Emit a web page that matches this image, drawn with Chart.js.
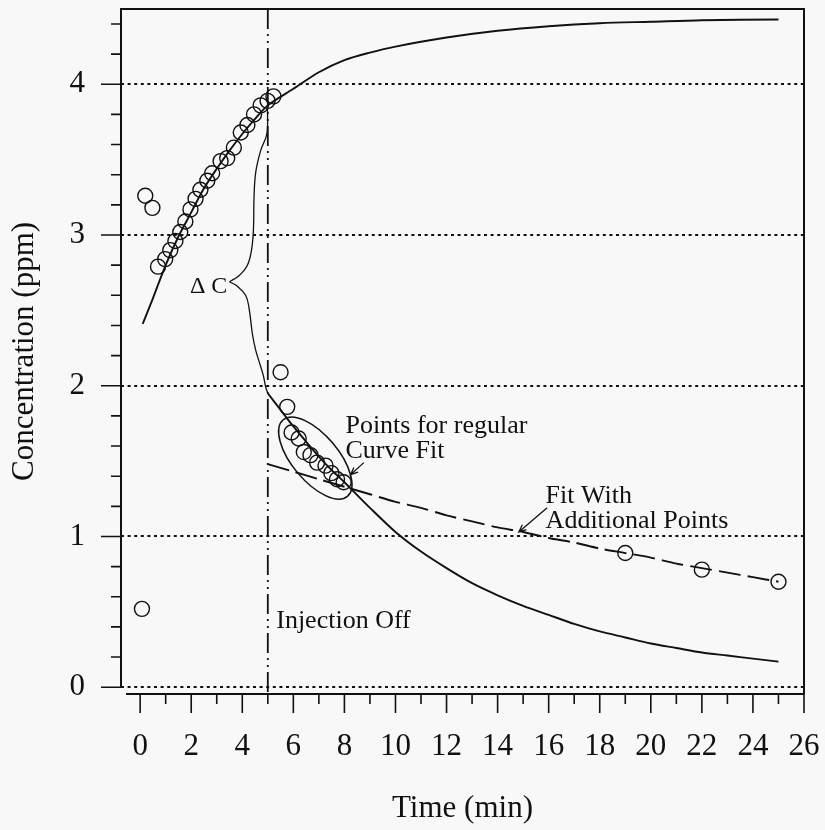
<!DOCTYPE html>
<html>
<head>
<meta charset="utf-8">
<script src="https://cdn.jsdelivr.net/npm/chart.js@4.4.0/dist/chart.umd.min.js"></script>
<style>
  html, body { margin: 0; padding: 0; background: #f8f8f8; }
  #wrap { width: 825px; height: 830px; }
</style>
</head>
<body>
<div id="wrap"><canvas id="chart" width="825" height="830"></canvas></div>
<script>
// axis ranges and tick labels
const xMin = -0.75, xMax = 26;
const yMin = -0.045, yMax = 4.5;
const xTickLabels = [0, 2, 4, 6, 8, 10, 12, 14, 16, 18, 20, 22, 24, 26];
const yTickLabels = [0, 1, 2, 3, 4];
const injectionTime = 5;

// measured concentrations (open circles)
const risingT = [0.70, 0.98, 1.18, 1.38, 1.57, 1.77, 1.97, 2.17, 2.36, 2.63, 2.82, 3.15, 3.41, 3.67, 3.94, 4.20, 4.46, 4.72, 4.99, 5.22];
const risingC = [2.79, 2.84, 2.90, 2.96, 3.02, 3.09, 3.17, 3.24, 3.30, 3.36, 3.41, 3.49, 3.51, 3.58, 3.68, 3.73, 3.80, 3.86, 3.89, 3.92];
const outlierT = [0.20, 0.48, 0.07];
const outlierC = [3.26, 3.18, 0.52];
const decayT = [5.50, 5.76, 5.93, 6.21, 6.41, 6.67, 6.93, 7.26, 7.49, 7.71, 7.97];
const decayC = [2.09, 1.86, 1.69, 1.65, 1.56, 1.54, 1.49, 1.47, 1.42, 1.38, 1.36];
const lateT = [19, 22, 25];
const lateC = [0.89, 0.78, 0.70];

// fitted curves
const buildupT = [0.1, 0.5, 1, 1.5, 2, 2.5, 3, 3.5, 4, 4.5, 5, 6, 7, 8, 9, 10, 12, 14, 16, 18, 20, 22, 25];
const buildupC = [2.41, 2.58, 2.80, 2.99, 3.15, 3.31, 3.44, 3.56, 3.67, 3.77, 3.86, 3.97, 4.08, 4.16, 4.21, 4.25, 4.31, 4.355, 4.385, 4.405, 4.415, 4.425, 4.43];
const fallT = [5, 5.5, 6, 6.5, 7, 7.5, 8, 9, 10, 11, 12, 13, 14, 15, 16, 17, 18, 19, 20, 21, 22, 23, 24, 25];
const fallC = [1.95, 1.84, 1.73, 1.63, 1.53, 1.44, 1.36, 1.19, 1.03, 0.90, 0.79, 0.69, 0.61, 0.54, 0.48, 0.42, 0.37, 0.33, 0.29, 0.26, 0.23, 0.21, 0.19, 0.17];
const extT = [5, 6, 7, 8, 9, 10, 11, 12, 13, 14, 15, 16, 17, 18, 19, 20, 21, 22, 23, 24, 25];
const extC = [1.48, 1.43, 1.38, 1.33, 1.28, 1.23, 1.19, 1.14, 1.10, 1.06, 1.03, 0.99, 0.96, 0.92, 0.89, 0.86, 0.82, 0.79, 0.76, 0.73, 0.70];

// delta C brace, upper and lower arm
const braceUpT = [4.99, 4.96, 4.72, 4.53, 4.46, 4.44, 4.37, 4.20, 3.87, 3.50];
const braceUpC = [3.84, 3.67, 3.56, 3.42, 3.25, 3.05, 2.91, 2.80, 2.73, 2.69];
const braceLoT = [3.50, 3.81, 4.13, 4.26, 4.40, 4.52, 4.66, 4.82, 4.92, 5.00];
const braceLoC = [2.69, 2.66, 2.60, 2.52, 2.34, 2.24, 2.16, 2.07, 1.99, 1.95];

const pts = (xs, ys) => xs.map((x, i) => ({ x: x, y: ys[i] }));
const ink = '#111';
const serif = "'Liberation Serif', 'Times New Roman', serif";
Chart.defaults.font.family = serif;
Chart.defaults.color = ink;

const lineSet = (data, extra) => Object.assign({
  data: data, showLine: true, borderColor: ink, borderWidth: 1.9,
  pointRadius: 0, fill: false, tension: 0.3
}, extra);
const dotSet = (data) => ({
  data: data, showLine: false, pointRadius: 7.5, pointBorderWidth: 1.4,
  pointBorderColor: ink, pointBackgroundColor: 'rgba(0,0,0,0)'
});

// frame, tick marks and annotations
const decor = {
  id: 'decor',
  afterDraw(chart) {
    const { ctx, chartArea: a, scales: { x, y } } = chart;
    const X = v => x.getPixelForValue(v), Y = v => y.getPixelForValue(v);
    ctx.save();
    ctx.strokeStyle = ink;
    ctx.fillStyle = ink;
    ctx.lineWidth = 2;
    ctx.beginPath();
    ctx.moveTo(a.left, Y(0));
    ctx.lineTo(a.left, a.top);
    ctx.lineTo(a.right, a.top);
    ctx.lineTo(a.right, a.bottom);
    ctx.moveTo(a.left + 5, a.bottom);
    ctx.lineTo(a.right, a.bottom);
    ctx.stroke();

    ctx.lineWidth = 1.6;
    ctx.beginPath();
    for (let i = 0; i <= 22; i++) {
      const py = Y(i * 0.2);
      ctx.moveTo(a.left, py);
      ctx.lineTo(a.left - (i % 5 === 0 ? 20 : 10), py);
    }
    for (let v = 0; v <= 26; v++) {
      const px = X(v);
      ctx.moveTo(px, a.bottom);
      ctx.lineTo(px, a.bottom + (v % 2 === 0 ? 19 : 10));
    }
    ctx.stroke();

    // ellipse round the points used for the regular fit
    ctx.lineWidth = 1.5;
    ctx.beginPath();
    ctx.ellipse(X(6.86), Y(1.52), 50, 23, 50 * Math.PI / 180, 0, Math.PI * 2);
    ctx.stroke();

    const arrow = (x0, y0, x1, y1) => {
      const p0 = [X(x0), Y(y0)], p1 = [X(x1), Y(y1)];
      const ang = Math.atan2(p1[1] - p0[1], p1[0] - p0[0]);
      ctx.beginPath();
      ctx.moveTo(p0[0], p0[1]);
      ctx.lineTo(p1[0], p1[1]);
      ctx.moveTo(p1[0] - 8 * Math.cos(ang - 0.4), p1[1] - 8 * Math.sin(ang - 0.4));
      ctx.lineTo(p1[0], p1[1]);
      ctx.lineTo(p1[0] - 8 * Math.cos(ang + 0.4), p1[1] - 8 * Math.sin(ang + 0.4));
      ctx.stroke();
    };
    ctx.lineWidth = 1.3;
    arrow(8.76, 1.49, 8.24, 1.41);
    arrow(15.94, 1.19, 14.83, 1.03);

    ctx.textBaseline = 'middle';
    ctx.textAlign = 'left';
    ctx.font = '26px ' + serif;
    ctx.fillText('Points for regular', X(8.04), Y(1.735));
    ctx.fillText('Curve Fit', X(8.04), Y(1.563));
    ctx.fillText('Fit With', X(15.88), Y(1.27));
    ctx.fillText('Additional Points', X(15.88), Y(1.10));
    ctx.fillText('Injection Off', X(5.33), Y(0.44));
    ctx.font = '24px ' + serif;
    ctx.fillText('\u0394 C', X(1.95), Y(2.66));
    ctx.restore();
  }
};

new Chart(document.getElementById('chart'), {
  type: 'scatter',
  data: {
    datasets: [
      lineSet(pts([injectionTime, injectionTime], [yMax, yMin]), { borderWidth: 1.8, borderDash: [20, 5, 2, 5, 2, 5], tension: 0 }),
      lineSet(pts(buildupT, buildupC)),
      lineSet(pts(fallT, fallC)),
      lineSet(pts(extT, extC), { borderDash: [22, 7] }),
      lineSet(pts(braceUpT, braceUpC), { borderWidth: 1.3, tension: 0.4 }),
      lineSet(pts(braceLoT, braceLoC), { borderWidth: 1.3, tension: 0.4 }),
      dotSet(pts(risingT, risingC)),
      dotSet(pts(outlierT, outlierC)),
      dotSet(pts(decayT, decayC)),
      dotSet(pts(lateT, lateC))
    ]
  },
  options: {
    responsive: false,
    animation: false,
    devicePixelRatio: 1,
    layout: { padding: { top: 8, right: 21, bottom: 0, left: 0 } },
    plugins: { legend: { display: false }, tooltip: { enabled: false } },
    scales: {
      x: {
        type: 'linear', min: xMin, max: xMax,
        grid: { display: false, drawTicks: false },
        border: { display: false },
        ticks: { padding: 34, maxRotation: 0, autoSkip: false, font: { size: 31 }, color: ink },
        afterBuildTicks: s => { s.ticks = xTickLabels.map(v => ({ value: v })); },
        afterFit: s => { s.height = 136; s.paddingLeft = 0; s.paddingRight = 0; },
        title: { display: true, text: 'Time (min)', font: { size: 31 }, color: ink, padding: { top: 0, bottom: 3 } }
      },
      y: {
        type: 'linear', min: yMin, max: yMax,
        grid: { color: ink, lineWidth: 2, drawTicks: false },
        border: { display: false, dash: [3, 3.6] },
        ticks: { padding: 36, autoSkip: false, font: { size: 31 }, color: ink },
        afterBuildTicks: s => { s.ticks = yTickLabels.map(v => ({ value: v })); },
        afterFit: s => { s.width = 121; s.paddingTop = 0; s.paddingBottom = 0; },
        title: { display: true, text: 'Concentration (ppm)', font: { size: 31 }, color: ink, padding: { top: 6, bottom: 0 } }
      }
    }
  },
  plugins: [decor]
});
</script>
</body>
</html>
